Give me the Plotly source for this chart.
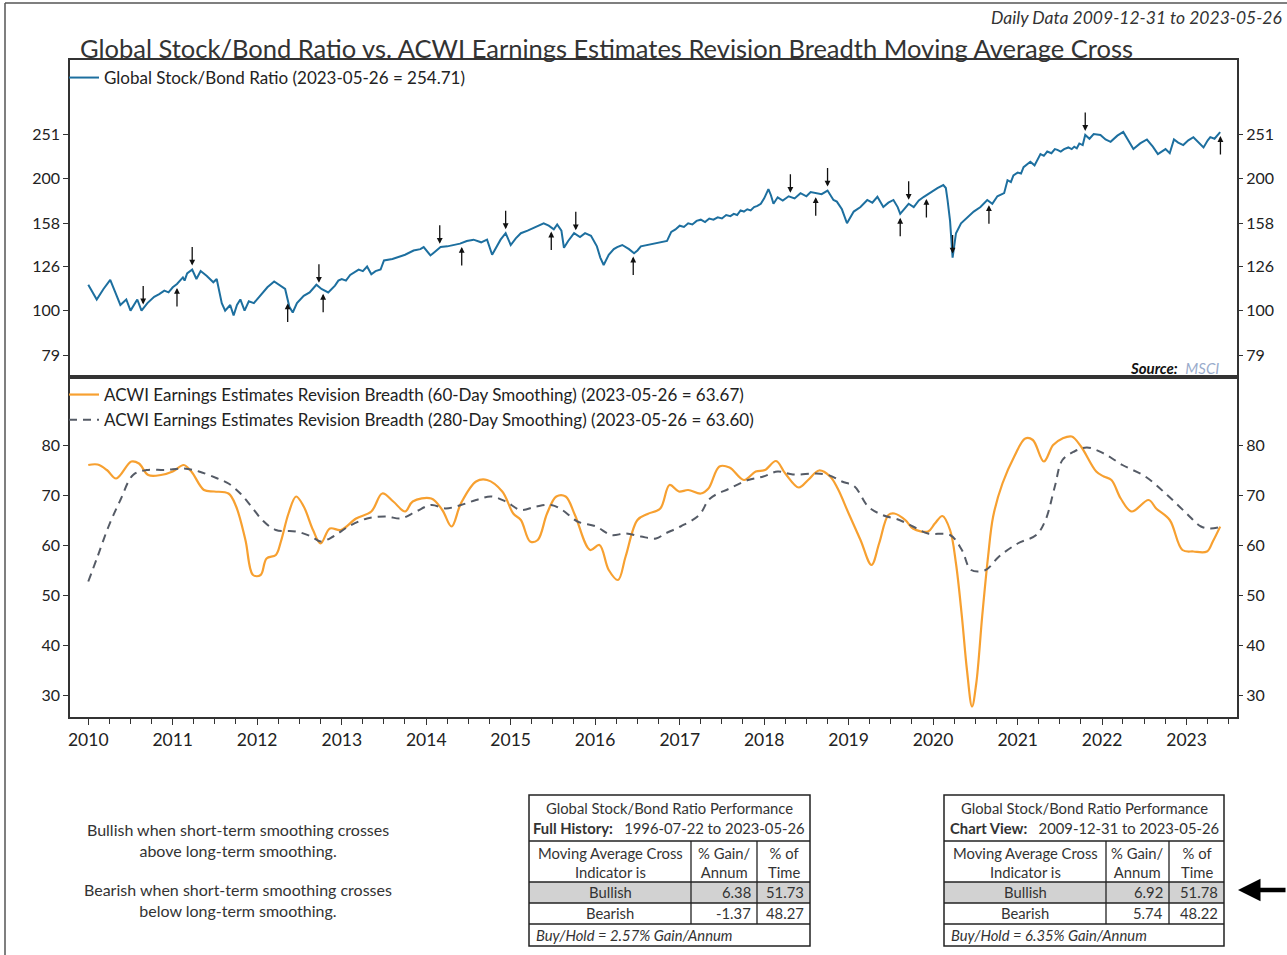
import plotly.graph_objects as go
import numpy as np
import pandas as pd

# ---- data (decimal years) ----
ratio_years = [2010.00, 2010.05, 2010.10, 2010.18, 2010.26, 2010.32, 2010.38, 2010.45, 2010.50, 2010.58,
               2010.63, 2010.70, 2010.78, 2010.84, 2010.90, 2010.95, 2011.00, 2011.05, 2011.08, 2011.12,
               2011.14, 2011.17, 2011.23, 2011.28, 2011.33, 2011.40, 2011.48, 2011.52, 2011.58, 2011.62,
               2011.68, 2011.72, 2011.76, 2011.80, 2011.85, 2011.90, 2011.96, 2012.05, 2012.12, 2012.20,
               2012.27, 2012.33, 2012.38, 2012.42, 2012.47, 2012.55, 2012.62, 2012.70, 2012.76, 2012.84,
               2012.92, 2012.96, 2013.00, 2013.05, 2013.10, 2013.15, 2013.20, 2013.25, 2013.30, 2013.35,
               2013.40, 2013.46, 2013.50, 2013.60, 2013.69, 2013.75, 2013.85, 2013.93, 2013.97, 2014.05,
               2014.10, 2014.17, 2014.25, 2014.32, 2014.40, 2014.48, 2014.56, 2014.65, 2014.72, 2014.78,
               2014.85, 2014.88, 2014.94, 2015.00, 2015.06, 2015.12, 2015.20, 2015.30, 2015.39, 2015.45,
               2015.51, 2015.55, 2015.60, 2015.63, 2015.68, 2015.75, 2015.82, 2015.88, 2015.95, 2016.02,
               2016.06, 2016.10, 2016.16, 2016.22, 2016.26, 2016.32, 2016.40, 2016.46, 2016.50, 2016.54,
               2016.62, 2016.70, 2016.80, 2016.85, 2016.90, 2016.95, 2017.00, 2017.05, 2017.10, 2017.15,
               2017.20, 2017.25, 2017.30, 2017.35, 2017.40, 2017.45, 2017.50, 2017.55, 2017.60, 2017.64,
               2017.68, 2017.72, 2017.76, 2017.80, 2017.84, 2017.88, 2017.92, 2017.96, 2018.00, 2018.05,
               2018.08, 2018.11, 2018.16, 2018.22, 2018.29, 2018.36, 2018.43, 2018.50, 2018.55, 2018.61,
               2018.68, 2018.75, 2018.82, 2018.86, 2018.92, 2018.98, 2019.06, 2019.14, 2019.22, 2019.28,
               2019.34, 2019.41, 2019.47, 2019.53, 2019.58, 2019.61, 2019.66, 2019.71, 2019.77, 2019.83,
               2019.89, 2019.97, 2020.05, 2020.12, 2020.15, 2020.17, 2020.20, 2020.23, 2020.25, 2020.27,
               2020.33, 2020.40, 2020.48, 2020.56, 2020.64, 2020.70, 2020.76, 2020.84, 2020.88, 2020.92,
               2020.95, 2021.00, 2021.04, 2021.07, 2021.11, 2021.15, 2021.20, 2021.24, 2021.27, 2021.31,
               2021.35, 2021.40, 2021.44, 2021.47, 2021.51, 2021.55, 2021.60, 2021.64, 2021.67, 2021.70,
               2021.73, 2021.77, 2021.80, 2021.85, 2021.90, 2021.98, 2022.04, 2022.10, 2022.18, 2022.25,
               2022.30, 2022.37, 2022.45, 2022.53, 2022.60, 2022.66, 2022.75, 2022.80, 2022.85, 2022.90,
               2022.96, 2023.02, 2023.08, 2023.14, 2023.20, 2023.25, 2023.28, 2023.33, 2023.397]
ratio_vals = [114.5, 110, 106, 112, 117.5, 110, 103, 106, 100, 106,
              100, 104, 107.5, 109, 111, 110, 113, 115, 117, 119,
              117, 121.5, 124, 118, 123, 120, 116, 118, 104, 100,
              103, 97.5, 103, 106, 100, 105, 104, 109, 113, 116.5,
              114, 112, 102, 99, 104, 108, 110, 114.5, 112, 110,
              114, 117, 118, 117, 120.5, 122, 124, 123, 126, 121,
              123, 124, 130, 131, 133, 134, 137, 138, 139.5, 133.5,
              136, 139.5, 140, 141, 142, 144, 145, 143, 145, 134,
              141, 145, 150, 141, 146, 150, 152, 155, 158, 156,
              153, 157, 152, 139, 144, 150, 147, 150, 148, 140,
              132, 127, 134, 138, 139.5, 141, 138, 135, 137, 140,
              141, 142, 143, 144, 151, 153, 156, 155, 158, 157,
              160, 161, 159, 162, 161, 163, 162, 165, 164, 166,
              165, 169, 168, 170, 169, 172, 173, 175, 180, 189,
              183, 175, 181, 178, 182, 180, 185, 182, 186, 185,
              184, 187.5, 178.5, 177, 170, 158, 168, 172, 178.5, 176,
              181.5, 172, 176, 178.5, 172, 166, 171, 175, 172, 178,
              181.5, 186, 190, 193, 190, 178.5, 160, 132, 142, 150,
              158, 163, 168, 172, 178.5, 175, 182, 185, 198, 196,
              203, 206, 205, 212, 215, 218, 214, 222, 227, 225,
              230, 228, 233, 232, 230, 233, 235, 233, 236, 234,
              240, 238, 251, 246, 252, 251, 245, 242, 250, 255,
              245, 233, 240, 245, 236, 227, 233, 228, 245, 241,
              238, 244, 248, 242, 235, 244, 248, 246, 254.71]

breadth60_years = [2010.00, 2010.11, 2010.22, 2010.33, 2010.51, 2010.60, 2010.71, 2010.86, 2011.00, 2011.13,
                   2011.22, 2011.37, 2011.49, 2011.66, 2011.75, 2011.86, 2011.95, 2012.04, 2012.11, 2012.22,
                   2012.28, 2012.37, 2012.46, 2012.55, 2012.66, 2012.75, 2012.86, 2012.99, 2013.17, 2013.35,
                   2013.48, 2013.61, 2013.75, 2013.84, 2014.06, 2014.19, 2014.30, 2014.41, 2014.59, 2014.72,
                   2014.90, 2015.03, 2015.12, 2015.23, 2015.32, 2015.43, 2015.54, 2015.65, 2015.76, 2015.94,
                   2016.05, 2016.16, 2016.27, 2016.36, 2016.50, 2016.62, 2016.77, 2016.88, 2016.99, 2017.10,
                   2017.25, 2017.34, 2017.47, 2017.59, 2017.76, 2017.90, 2018.01, 2018.14, 2018.25, 2018.41,
                   2018.52, 2018.65, 2018.78, 2018.87, 2019.00, 2019.14, 2019.27, 2019.36, 2019.47, 2019.54,
                   2019.67, 2019.76, 2019.94, 2020.02, 2020.11, 2020.20, 2020.27, 2020.34, 2020.40, 2020.46,
                   2020.51, 2020.58, 2020.65, 2020.71, 2020.82, 2020.96, 2021.09, 2021.18, 2021.31, 2021.42,
                   2021.53, 2021.64, 2021.75, 2021.93, 2022.02, 2022.11, 2022.22, 2022.35, 2022.55, 2022.64,
                   2022.80, 2022.95, 2023.08, 2023.24, 2023.31, 2023.397]
breadth60_vals = [76.0, 76.1, 75.0, 73.3, 76.7, 76.3, 74.0, 74.0, 74.7, 76.0,
                  74.7, 71.0, 70.7, 70.3, 67.7, 61.0, 54.0, 54.0, 57.3, 58.0,
                  60.7, 66.3, 69.7, 67.7, 63.0, 60.3, 63.3, 63.0, 65.3, 66.7,
                  70.3, 68.7, 66.7, 68.7, 69.3, 67.0, 63.7, 68.3, 72.7, 73.0,
                  70.7, 66.3, 65.0, 60.7, 61.0, 66.3, 69.7, 69.7, 66.0, 59.0,
                  60.0, 55.0, 53.0, 57.7, 65.0, 66.2, 67.3, 72.0, 70.7, 71.0,
                  70.3, 71.3, 75.7, 75.5, 73.0, 74.7, 75.0, 76.8, 74.3, 71.5,
                  73.0, 74.9, 73.7, 71.3, 66.3, 61.0, 56.0, 60.3, 66.0, 66.3,
                  65.0, 63.3, 62.7, 64.3, 65.8, 63.0, 56.3, 45.7, 35.0, 27.7,
                  32.3, 45.7, 57.7, 65.7, 72.3, 77.7, 81.3, 81.0, 76.7, 80.0,
                  81.3, 81.7, 79.7, 74.7, 73.7, 73.0, 69.3, 66.7, 69.0, 67.3,
                  65.0, 59.0, 58.7, 58.7, 60.7, 63.67]

breadth280_years = [2010.00, 2010.11, 2010.24, 2010.38, 2010.53, 2010.69, 2010.91, 2011.13, 2011.31, 2011.53,
                    2011.66, 2011.80, 2011.93, 2012.06, 2012.22, 2012.46, 2012.64, 2012.75, 2012.90, 2013.08,
                    2013.30, 2013.53, 2013.70, 2013.88, 2014.06, 2014.23, 2014.41, 2014.59, 2014.77, 2014.94,
                    2015.12, 2015.30, 2015.48, 2015.61, 2015.79, 2016.01, 2016.19, 2016.36, 2016.54, 2016.72,
                    2016.83, 2017.01, 2017.23, 2017.36, 2017.59, 2017.81, 2017.99, 2018.16, 2018.34, 2018.61,
                    2018.76, 2018.92, 2019.07, 2019.23, 2019.40, 2019.60, 2019.76, 2019.94, 2020.20, 2020.34,
                    2020.45, 2020.62, 2020.78, 2021.00, 2021.22, 2021.33, 2021.44, 2021.53, 2021.67, 2021.82,
                    2022.02, 2022.24, 2022.51, 2022.77, 2023.00, 2023.17, 2023.28, 2023.397]
breadth280_vals = [52.7, 57.7, 63.7, 69.0, 74.0, 75.0, 75.0, 75.3, 74.7, 73.3,
                   72.3, 70.3, 67.7, 65.0, 63.0, 62.7, 61.7, 60.7, 61.7, 63.7,
                   65.3, 65.7, 65.3, 66.7, 68.0, 67.3, 68.0, 69.0, 69.7, 68.7,
                   67.0, 67.7, 68.0, 67.0, 64.7, 63.7, 62.0, 62.3, 61.7, 61.3,
                   62.3, 63.7, 66.0, 69.3, 71.3, 73.0, 73.7, 74.7, 74.1, 74.3,
                   74.0, 72.7, 71.7, 67.7, 66.0, 65.0, 63.7, 62.3, 62.0, 59.0,
                   55.0, 55.0, 57.7, 60.3, 62.0, 65.0, 71.7, 77.0, 78.7, 79.5,
                   78.3, 76.0, 73.7, 70.0, 66.3, 63.7, 63.3, 63.60]

# moving average cross signals (decimal years)
bear_years = [2010.65, 2011.23, 2012.73, 2014.16, 2014.94, 2015.77, 2018.31, 2018.75, 2019.71, 2020.23, 2021.80]
bull_years = [2011.05, 2012.36, 2012.78, 2014.42, 2015.48, 2016.45, 2018.61, 2019.61, 2019.92, 2020.66, 2023.40]

ratio_ticks = [79, 100, 126, 158, 200, 251]
breadth_ticks = [30, 40, 50, 60, 70, 80]

# tables
tbl_labels = ["Full History:", "Chart View:"]
tbl_periods = ["1996-07-22 to 2023-05-26", "2009-12-31 to 2023-05-26"]
gain_bull = ["6.38", "6.92"]
gain_bear = ["-1.37", "5.74"]
time_bull = ["51.73", "51.78"]
time_bear = ["48.27", "48.22"]
buy_hold = ["2.57", "6.35"]


def to_dates(yrs):
    yrs = np.asarray(yrs, dtype=float)
    return pd.Timestamp("2010-01-01") + pd.to_timedelta((yrs - 2010) * 365.25, unit="D")


# pixel -> paper helpers
W, H = 1287, 955
L, R, T, B = 70, 50, 60, 238
def px(x):
    return (x - L) / (W - L - R)
def py(y):
    return (H - B - y) / (H - T - B)

split = py(377)
FONT = "Lato, 'Open Sans', sans-serif"
TXT = "#333333"

fig = go.Figure()

fig.add_trace(go.Scatter(x=to_dates(ratio_years), y=ratio_vals, mode="lines",
                         line=dict(color="#1d6f9f", width=2),
                         name="Global Stock/Bond Ratio (2023-05-26 = 254.71)",
                         xaxis="x2", yaxis="y2", legend="legend", legendgroup="a"))
fig.add_trace(go.Scatter(x=[None], y=[None], xaxis="x2", yaxis="y4", showlegend=False, hoverinfo="skip"))

fig.add_trace(go.Scatter(x=to_dates(breadth60_years), y=breadth60_vals, mode="lines",
                         line=dict(color="#f7a030", width=2.2, shape="spline"),
                         name="ACWI Earnings Estimates Revision Breadth (60-Day Smoothing) (2023-05-26 = 63.67)",
                         xaxis="x", yaxis="y", legend="legend2", legendgroup="b"))
fig.add_trace(go.Scatter(x=to_dates(breadth280_years), y=breadth280_vals, mode="lines",
                         line=dict(color="#555b66", width=2, dash="8px,6px", shape="spline"),
                         name="ACWI Earnings Estimates Revision Breadth (280-Day Smoothing) (2023-05-26 = 63.60)",
                         xaxis="x", yaxis="y", legend="legend2", legendgroup="c"))
fig.add_trace(go.Scatter(x=[None], y=[None], xaxis="x", yaxis="y3", showlegend=False, hoverinfo="skip"))

xr = ["2009-10-14", "2023-08-07"]
axis_line = dict(showline=True, linecolor="#333333", linewidth=1.5, showgrid=False, zeroline=False)
ytickfont = dict(family=FONT, size=16, color="#222222")
xtickfont = dict(family=FONT, size=17.5, color="#222222")

annotations = []

# cross arrows on the ratio panel
for yrs, ay in [(bear_years, -24), (bull_years, 24)]:
    yv = np.interp(yrs, ratio_years, ratio_vals)
    for d, v in zip(to_dates(yrs), yv):
        annotations.append(dict(x=d, y=np.log10(v), xref="x2", yref="y2", text="", showarrow=True,
                                ax=0, ay=ay, arrowhead=2, arrowsize=0.9, arrowwidth=1.3,
                                arrowcolor="#111111", standoff=4))

annotations += [
    dict(x=px(1284), y=py(18), xref="paper", yref="paper", xanchor="right", yanchor="middle",
         text="<i>Daily Data 2009-12-31 to 2023-05-26</i>", showarrow=False,
         font=dict(family=FONT, size=17.5, color=TXT)),
    dict(x=px(78), y=py(48), xref="paper", yref="paper", xanchor="left", yanchor="middle",
         text="Global Stock/Bond Ratio vs. ACWI Earnings Estimates Revision Breadth Moving Average Cross",
         showarrow=False, font=dict(family=FONT, size=25.5, color=TXT)),
    dict(x=px(1221), y=py(368), xref="paper", yref="paper", xanchor="right", yanchor="middle",
         text="<b><i>Source:</i></b>  <i><span style='color:#9aaccc'>MSCI</span></i>", showarrow=False,
         font=dict(family=FONT, size=15, color="#111111")),
    dict(x=px(238), y=py(840), xref="paper", yref="paper", xanchor="center", yanchor="middle",
         text="Bullish when short-term smoothing crosses<br>above long-term smoothing.", showarrow=False,
         font=dict(family=FONT, size=16, color=TXT)),
    dict(x=px(238), y=py(900), xref="paper", yref="paper", xanchor="center", yanchor="middle",
         text="Bearish when short-term smoothing crosses<br>below long-term smoothing.", showarrow=False,
         font=dict(family=FONT, size=16, color=TXT)),
    # black arrow pointing at the current signal row
    dict(x=px(1238), y=py(890), xref="paper", yref="paper", text="", showarrow=True,
         ax=50, ay=0, arrowhead=2, arrowsize=1, arrowwidth=4.5, arrowcolor="#000000", standoff=0),
]

shapes = [
    dict(type="line", xref="paper", yref="paper", x0=px(5), x1=px(5), y0=py(3), y1=py(955),
         line=dict(color="#555555", width=1.5)),
    dict(type="line", xref="paper", yref="paper", x0=px(5), x1=px(1287), y0=py(3), y1=py(3),
         line=dict(color="#555555", width=1.5)),
]

# performance tables
rows_y = [795, 841, 882, 903, 924, 946]
for i, (x0, c1, c2, x1) in enumerate([(529, 691, 757, 810), (944, 1106, 1169, 1224)]):
    shapes.append(dict(type="rect", xref="paper", yref="paper", x0=px(x0), x1=px(x1),
                       y0=py(rows_y[2]), y1=py(rows_y[3]), fillcolor="#d2d2d2", line=dict(width=0)))
    shapes.append(dict(type="rect", xref="paper", yref="paper", x0=px(x0), x1=px(x1),
                       y0=py(rows_y[0]), y1=py(rows_y[5]), line=dict(color="#222222", width=1.5)))
    for ry in rows_y[1:5]:
        shapes.append(dict(type="line", xref="paper", yref="paper", x0=px(x0), x1=px(x1),
                           y0=py(ry), y1=py(ry), line=dict(color="#222222", width=1.3)))
    for cx in (c1, c2):
        shapes.append(dict(type="line", xref="paper", yref="paper", x0=px(cx), x1=px(cx),
                           y0=py(rows_y[1]), y1=py(rows_y[4]), line=dict(color="#222222", width=1.3)))
    f = dict(family=FONT, size=14.8, color=TXT)
    def txt(x, y, s, anchor="center"):
        annotations.append(dict(x=px(x), y=py(y), xref="paper", yref="paper", text=s, showarrow=False,
                                xanchor=anchor, yanchor="middle", font=f))
    mid = (x0 + x1) / 2
    txt(mid, 808, "Global Stock/Bond Ratio Performance")
    txt(mid, 828, "<b>" + tbl_labels[i] + "</b>   " + tbl_periods[i])
    txt((x0 + c1) / 2, 862, "Moving Average Cross<br>Indicator is")
    txt((c1 + c2) / 2, 862, "% Gain/<br>Annum")
    txt((c2 + x1) / 2, 862, "% of<br>Time")
    txt((x0 + c1) / 2, 892, "Bullish")
    txt((x0 + c1) / 2, 913, "Bearish")
    txt(c2 - 4, 892, gain_bull[i], "right")
    txt(c2 - 4, 913, gain_bear[i], "right")
    txt(x1 - 4, 892, time_bull[i], "right")
    txt(x1 - 4, 913, time_bear[i], "right")
    txt(x0 + 5, 935, "<i>Buy/Hold = " + buy_hold[i] + "% Gain/Annum</i>", "left")

legend_font = dict(family=FONT, size=17, color="#222222")
fig.update_layout(
    width=W, height=H,
    margin=dict(l=L, r=R, t=T, b=B),
    paper_bgcolor="white", plot_bgcolor="white",
    font=dict(family=FONT, color=TXT),
    xaxis=dict(domain=[0, 1], anchor="y", type="date", range=xr, mirror=True,
               ticks="outside", ticklen=6, tickcolor="#333333", tickformat="%Y", dtick="M12",
               tick0="2010-01-01", tickfont=xtickfont,
               minor=dict(ticks="outside", dtick="M3", ticklen=5, tickcolor="#333333"), **axis_line),
    xaxis2=dict(domain=[0, 1], anchor="y2", type="date", range=xr, matches="x", mirror=True,
                showticklabels=False, ticks="", **axis_line),
    yaxis=dict(domain=[0, split], anchor="x", range=[25.6, 93.6], tickvals=breadth_ticks, mirror=True,
               ticks="outside", ticklen=5, tickcolor="#333333", tickfont=ytickfont, **axis_line),
    yaxis3=dict(overlaying="y", anchor="x", side="right", range=[25.6, 93.6], tickvals=breadth_ticks,
                ticks="outside", ticklen=5, tickcolor="#333333", tickfont=ytickfont,
                showgrid=False, zeroline=False, showline=False),
    yaxis2=dict(domain=[split, 1], anchor="x2", type="log", range=[1.849, 2.570], tickvals=ratio_ticks,
                ticktext=[str(t) for t in ratio_ticks], mirror=True,
                ticks="outside", ticklen=5, tickcolor="#333333", tickfont=ytickfont, **axis_line),
    yaxis4=dict(overlaying="y2", anchor="x2", side="right", type="log", range=[1.849, 2.570],
                tickvals=ratio_ticks, ticktext=[str(t) for t in ratio_ticks],
                ticks="outside", ticklen=5, tickcolor="#333333", tickfont=ytickfont,
                showgrid=False, zeroline=False, showline=False),
    legend=dict(x=px(64), y=py(60), xanchor="left", yanchor="top", bgcolor="rgba(0,0,0,0)",
                font=legend_font, tracegroupgap=0),
    legend2=dict(x=px(64), y=py(377), xanchor="left", yanchor="top", bgcolor="rgba(0,0,0,0)",
                 font=legend_font, tracegroupgap=0),
    annotations=annotations,
    shapes=shapes,
    hovermode=False,
)

# drop the default 8px page margin so the figure sits at the window origin
fig.write_html("out.html", config={"displayModeBar": False},
               post_script="document.body.style.margin='0';")
